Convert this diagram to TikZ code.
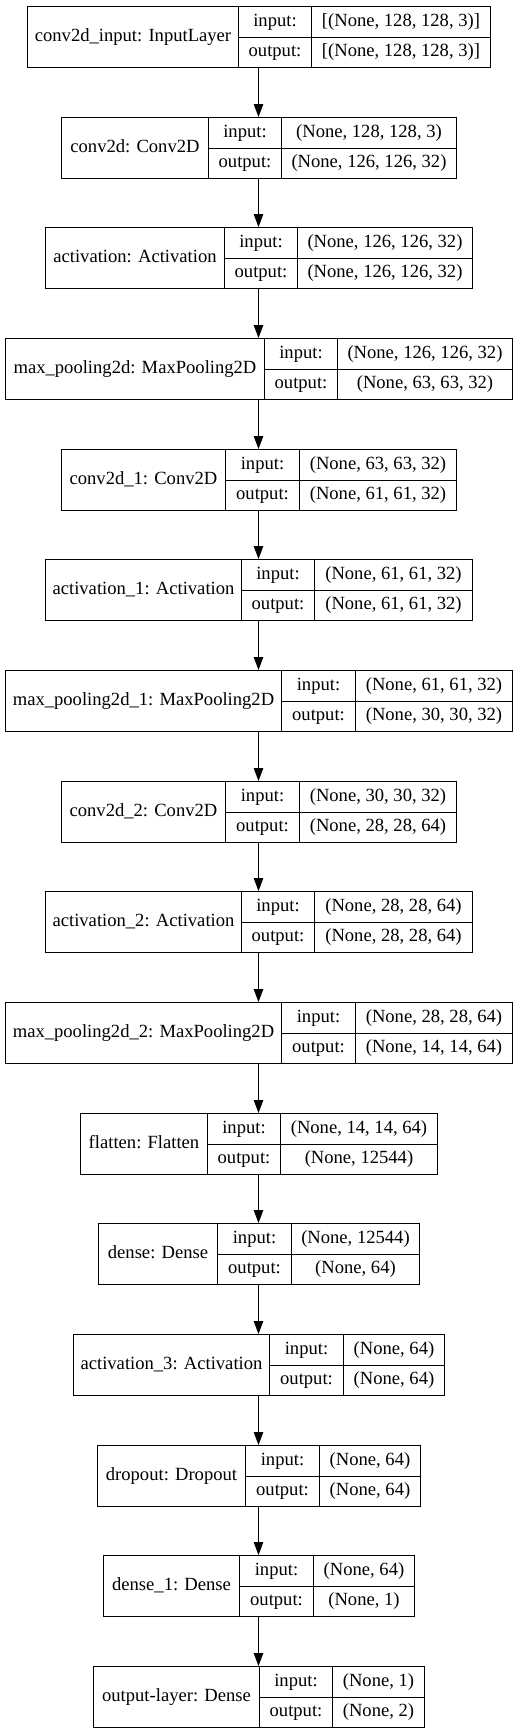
\documentclass[tikz,border=0pt]{standalone}
\usepackage{fontspec}
\setmainfont{Liberation Serif}
\usetikzlibrary{arrows.meta}
\begin{document}
\begin{tikzpicture}[
   x=1pt,y=-1pt,
   font=\fontsize{18.6}{20}\selectfont,
   cell/.style={draw,line width=1pt,inner sep=0pt,anchor=north west,text height=12.5pt,text depth=4pt},
   namecell/.style={cell,minimum height=61pt},
   portcell/.style={cell,minimum height=30.5pt},
   to/.style={-{Triangle[length=13pt,width=9.5pt]},line width=1pt}]
\useasboundingbox (0,0) rectangle (517,1733);
\coordinate (mid) at (258.5,0);
% conv2d_input
\node[namecell,minimum width=211pt] (inlayer) at (27,6) {conv2d\_input: InputLayer};
\node[portcell,minimum width=73pt] (inlayer-i) at (238,6) {input:};
\node[portcell,minimum width=73pt] (inlayer-o) at (238,36.5) {output:};
\node[portcell,minimum width=179pt] (inlayer-iv) at (311,6) {[(None, 128, 128, 3)]};
\node[portcell,minimum width=179pt] (inlayer-ov) at (311,36.5) {[(None, 128, 128, 3)]};
% conv2d
\node[namecell,minimum width=147pt] (conv) at (61,117) {conv2d: Conv2D};
\node[portcell,minimum width=73pt] (conv-i) at (208,117) {input:};
\node[portcell,minimum width=73pt] (conv-o) at (208,147.5) {output:};
\node[portcell,minimum width=175pt] (conv-iv) at (281,117) {(None, 128, 128, 3)};
\node[portcell,minimum width=175pt] (conv-ov) at (281,147.5) {(None, 126, 126, 32)};
% activation
\node[namecell,minimum width=179pt] (act) at (45,227) {activation: Activation};
\node[portcell,minimum width=73pt] (act-i) at (224,227) {input:};
\node[portcell,minimum width=73pt] (act-o) at (224,257.5) {output:};
\node[portcell,minimum width=175pt] (act-iv) at (297,227) {(None, 126, 126, 32)};
\node[portcell,minimum width=175pt] (act-ov) at (297,257.5) {(None, 126, 126, 32)};
% max_pooling2d
\node[namecell,minimum width=259pt] (pool) at (5,338) {max\_pooling2d: MaxPooling2D};
\node[portcell,minimum width=73pt] (pool-i) at (264,338) {input:};
\node[portcell,minimum width=73pt] (pool-o) at (264,368.5) {output:};
\node[portcell,minimum width=175pt] (pool-iv) at (337,338) {(None, 126, 126, 32)};
\node[portcell,minimum width=175pt] (pool-ov) at (337,368.5) {(None, 63, 63, 32)};
% conv2d_1
\node[namecell,minimum width=164pt] (conv1) at (61,449) {conv2d\_1: Conv2D};
\node[portcell,minimum width=74pt] (conv1-i) at (225,449) {input:};
\node[portcell,minimum width=74pt] (conv1-o) at (225,479.5) {output:};
\node[portcell,minimum width=157pt] (conv1-iv) at (299,449) {(None, 63, 63, 32)};
\node[portcell,minimum width=157pt] (conv1-ov) at (299,479.5) {(None, 61, 61, 32)};
% activation_1
\node[namecell,minimum width=196pt] (act1) at (45,559) {activation\_1: Activation};
\node[portcell,minimum width=73pt] (act1-i) at (241,559) {input:};
\node[portcell,minimum width=73pt] (act1-o) at (241,589.5) {output:};
\node[portcell,minimum width=158pt] (act1-iv) at (314,559) {(None, 61, 61, 32)};
\node[portcell,minimum width=158pt] (act1-ov) at (314,589.5) {(None, 61, 61, 32)};
% max_pooling2d_1
\node[namecell,minimum width=276pt] (pool1) at (5,670) {max\_pooling2d\_1: MaxPooling2D};
\node[portcell,minimum width=74pt] (pool1-i) at (281,670) {input:};
\node[portcell,minimum width=74pt] (pool1-o) at (281,700.5) {output:};
\node[portcell,minimum width=157pt] (pool1-iv) at (355,670) {(None, 61, 61, 32)};
\node[portcell,minimum width=157pt] (pool1-ov) at (355,700.5) {(None, 30, 30, 32)};
% conv2d_2
\node[namecell,minimum width=164pt] (conv2) at (61,781) {conv2d\_2: Conv2D};
\node[portcell,minimum width=74pt] (conv2-i) at (225,781) {input:};
\node[portcell,minimum width=74pt] (conv2-o) at (225,811.5) {output:};
\node[portcell,minimum width=157pt] (conv2-iv) at (299,781) {(None, 30, 30, 32)};
\node[portcell,minimum width=157pt] (conv2-ov) at (299,811.5) {(None, 28, 28, 64)};
% activation_2
\node[namecell,minimum width=196pt] (act2) at (45,891) {activation\_2: Activation};
\node[portcell,minimum width=73pt] (act2-i) at (241,891) {input:};
\node[portcell,minimum width=73pt] (act2-o) at (241,921.5) {output:};
\node[portcell,minimum width=158pt] (act2-iv) at (314,891) {(None, 28, 28, 64)};
\node[portcell,minimum width=158pt] (act2-ov) at (314,921.5) {(None, 28, 28, 64)};
% max_pooling2d_2
\node[namecell,minimum width=276pt] (pool2) at (5,1002) {max\_pooling2d\_2: MaxPooling2D};
\node[portcell,minimum width=74pt] (pool2-i) at (281,1002) {input:};
\node[portcell,minimum width=74pt] (pool2-o) at (281,1032.5) {output:};
\node[portcell,minimum width=157pt] (pool2-iv) at (355,1002) {(None, 28, 28, 64)};
\node[portcell,minimum width=157pt] (pool2-ov) at (355,1032.5) {(None, 14, 14, 64)};
% flatten
\node[namecell,minimum width=127pt] (flat) at (80,1113) {flatten: Flatten};
\node[portcell,minimum width=73pt] (flat-i) at (207,1113) {input:};
\node[portcell,minimum width=73pt] (flat-o) at (207,1143.5) {output:};
\node[portcell,minimum width=157pt] (flat-iv) at (280,1113) {(None, 14, 14, 64)};
\node[portcell,minimum width=157pt] (flat-ov) at (280,1143.5) {(None, 12544)};
% dense
\node[namecell,minimum width=119pt] (dense) at (98,1223) {dense: Dense};
\node[portcell,minimum width=74pt] (dense-i) at (217,1223) {input:};
\node[portcell,minimum width=74pt] (dense-o) at (217,1253.5) {output:};
\node[portcell,minimum width=128pt] (dense-iv) at (291,1223) {(None, 12544)};
\node[portcell,minimum width=128pt] (dense-ov) at (291,1253.5) {(None, 64)};
% activation_3
\node[namecell,minimum width=196pt] (act3) at (73,1334) {activation\_3: Activation};
\node[portcell,minimum width=74pt] (act3-i) at (269,1334) {input:};
\node[portcell,minimum width=74pt] (act3-o) at (269,1364.5) {output:};
\node[portcell,minimum width=101pt] (act3-iv) at (343,1334) {(None, 64)};
\node[portcell,minimum width=101pt] (act3-ov) at (343,1364.5) {(None, 64)};
% dropout
\node[namecell,minimum width=148pt] (drop) at (97,1445) {dropout: Dropout};
\node[portcell,minimum width=74pt] (drop-i) at (245,1445) {input:};
\node[portcell,minimum width=74pt] (drop-o) at (245,1475.5) {output:};
\node[portcell,minimum width=101pt] (drop-iv) at (319,1445) {(None, 64)};
\node[portcell,minimum width=101pt] (drop-ov) at (319,1475.5) {(None, 64)};
% dense_1
\node[namecell,minimum width=136pt] (dense1) at (103,1555) {dense\_1: Dense};
\node[portcell,minimum width=74pt] (dense1-i) at (239,1555) {input:};
\node[portcell,minimum width=74pt] (dense1-o) at (239,1585.5) {output:};
\node[portcell,minimum width=101pt] (dense1-iv) at (313,1555) {(None, 64)};
\node[portcell,minimum width=101pt] (dense1-ov) at (313,1585.5) {(None, 1)};
% output-layer
\node[namecell,minimum width=166pt] (outlayer) at (93,1666) {output-layer: Dense};
\node[portcell,minimum width=73pt] (outlayer-i) at (259,1666) {input:};
\node[portcell,minimum width=73pt] (outlayer-o) at (259,1696.5) {output:};
\node[portcell,minimum width=92pt] (outlayer-iv) at (332,1666) {(None, 1)};
\node[portcell,minimum width=92pt] (outlayer-ov) at (332,1696.5) {(None, 2)};
\draw[to] (mid |- inlayer.south) -- (mid |- conv.north);
\draw[to] (mid |- conv.south) -- (mid |- act.north);
\draw[to] (mid |- act.south) -- (mid |- pool.north);
\draw[to] (mid |- pool.south) -- (mid |- conv1.north);
\draw[to] (mid |- conv1.south) -- (mid |- act1.north);
\draw[to] (mid |- act1.south) -- (mid |- pool1.north);
\draw[to] (mid |- pool1.south) -- (mid |- conv2.north);
\draw[to] (mid |- conv2.south) -- (mid |- act2.north);
\draw[to] (mid |- act2.south) -- (mid |- pool2.north);
\draw[to] (mid |- pool2.south) -- (mid |- flat.north);
\draw[to] (mid |- flat.south) -- (mid |- dense.north);
\draw[to] (mid |- dense.south) -- (mid |- act3.north);
\draw[to] (mid |- act3.south) -- (mid |- drop.north);
\draw[to] (mid |- drop.south) -- (mid |- dense1.north);
\draw[to] (mid |- dense1.south) -- (mid |- outlayer.north);
\end{tikzpicture}
\end{document}
